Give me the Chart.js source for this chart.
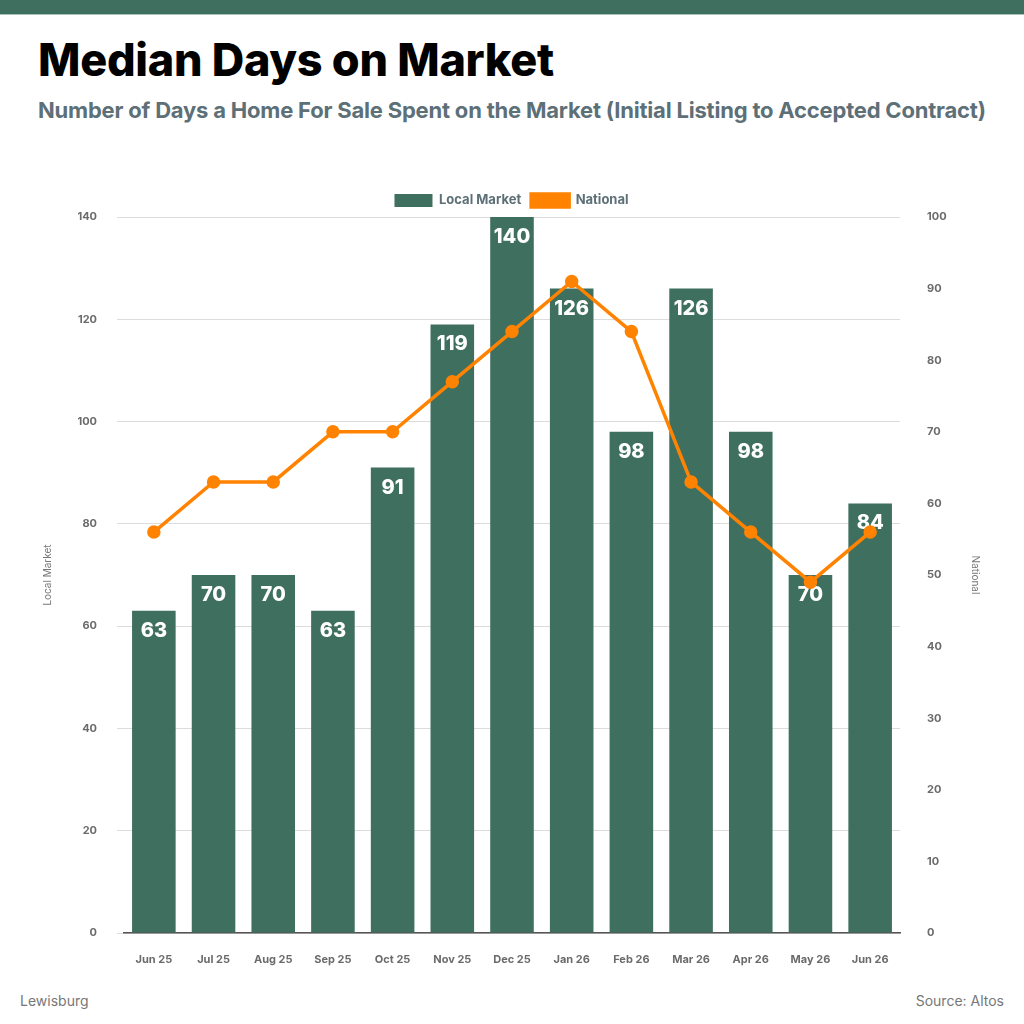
<!DOCTYPE html>
<html>
<head>
<meta charset="utf-8">
<script src="https://cdn.jsdelivr.net/npm/chart.js@4.4.1/dist/chart.umd.min.js"></script>
<style>
  html, body { margin: 0; padding: 0; background: #fff; }
  body { width: 1024px; height: 1024px; position: relative; overflow: hidden; font-family: "Inter", sans-serif; }
  .topbar { position: absolute; left: 0; top: 0; width: 1024px; height: 14px; background: #3f6f5e; border-bottom: 1px solid #a9c2b8; }
  h1 { position: absolute; left: 38px; top: 32px; margin: 0; font-size: 45px; font-weight: 800; color: #000; letter-spacing: -0.3px; }
  h2 { position: absolute; left: 38px; top: 97px; margin: 0; font-size: 22px; font-weight: 700; color: #5d6f77; letter-spacing: -0.2px; }
  .chart-box { position: absolute; left: 0; top: 182px; width: 1024px; height: 798px; }
  .foot { position: absolute; top: 992px; font-size: 14px; color: #777; }
</style>
</head>
<body>
<div class="topbar"></div>
<h1>Median Days on Market</h1>
<h2>Number of Days a Home For Sale Spent on the Market (Initial Listing to Accepted Contract)</h2>
<div class="chart-box"><canvas id="days-chart"></canvas></div>
<div class="foot" style="left:20px">Lewisburg</div>
<div class="foot" style="right:20px">Source: Altos</div>
<script>
const months = ['Jun 25', 'Jul 25', 'Aug 25', 'Sep 25', 'Oct 25', 'Nov 25', 'Dec 25', 'Jan 26', 'Feb 26', 'Mar 26', 'Apr 26', 'May 26', 'Jun 26']
const localMarket = [63, 70, 70, 63, 91, 119, 140, 126, 98, 126, 98, 70, 84]
const national = [56, 63, 63, 70, 70, 77, 84, 91, 84, 63, 56, 49, 56]

const green = '#3f6f5e'
const orange = '#ff8300'
const tickColor = '#6b6b6b'

// white value labels inside the top of each bar, drawn before the line
const barLabels = {
    id: 'barLabels',
    afterDatasetDraw(chart, args) {
        if (args.index !== 1) return
        const c = chart.ctx
        c.save()
        c.fillStyle = '#fff'
        c.font = '800 20px Inter'
        c.textAlign = 'center'
        c.textBaseline = 'middle'
        args.meta.data.forEach((bar, i) => {
            c.fillText(localMarket[i], bar.x, bar.y + 20)
        })
        c.restore()
    }
}

const data = {
    labels: months,
    datasets: [
        {
            type: 'line',
            label: 'National',
            data: national,
            borderColor: orange,
            backgroundColor: orange,
            borderWidth: 3.5,
            pointRadius: 5,
            pointHoverRadius: 5,
            tension: 0,
            yAxisID: 'y1',
            order: 0,
        },
        {
            type: 'bar',
            label: 'Local Market',
            data: localMarket,
            backgroundColor: green,
            barPercentage: 0.73,
            categoryPercentage: 1,
            yAxisID: 'y',
            order: 1,
        },
    ]
};

const config = {
    data: data,
    options: {
        responsive: true,
        maintainAspectRatio: false,
        animation: false,
        layout: {
            padding: { left: 38, right: 39, top: 2, bottom: 1 }
        },
        plugins: {
            legend: {
                display: true,
                reverse: true,
                labels: {
                    boxWidth: 38,
                    boxHeight: 13,
                    color: '#5d6f77',
                    font: { family: 'Inter', size: 13, weight: 'bold' },
                    padding: 10,
                }
            },
            tooltip: { enabled: false }
        },
        scales: {
            x: {
                grid: { display: false, drawTicks: false },
                border: { display: true, color: '#555', width: 1.5 },
                ticks: {
                    color: tickColor,
                    padding: 20,
                    font: { family: 'Inter', size: 11, weight: 'bold' }
                },
                afterFit: (scale) => { scale.height = 46 }
            },
            y: {
                type: 'linear',
                position: 'left',
                min: 0,
                max: 140,
                ticks: {
                    stepSize: 20,
                    color: tickColor,
                    padding: 20,
                    font: { family: 'Inter', size: 11, weight: 'bold' }
                },
                grid: { color: '#dcdcdc', drawTicks: true, tickLength: 7 },
                border: { display: false },
                title: {
                    display: true,
                    text: 'Local Market',
                    color: '#777',
                    padding: { top: 4, bottom: 4 },
                    font: { family: 'Inter', size: 10 }
                },
                afterFit: (scale) => { scale.width = 86 }
            },
            y1: {
                type: 'linear',
                position: 'right',
                min: 0,
                max: 100,
                ticks: {
                    stepSize: 10,
                    color: tickColor,
                    padding: 27,
                    font: { family: 'Inter', size: 11, weight: 'bold' }
                },
                // only the left axis draws grid lines
                grid: { drawOnChartArea: false, drawTicks: false },
                border: { display: false },
                title: {
                    display: true,
                    text: 'National',
                    color: '#777',
                    padding: { top: 4, bottom: 4 },
                    font: { family: 'Inter', size: 10 }
                },
                afterFit: (scale) => { scale.width = 85 }
            },
        }
    },
    plugins: [barLabels]
};

new Chart(document.getElementById('days-chart'), config);
</script>
</body>
</html>
